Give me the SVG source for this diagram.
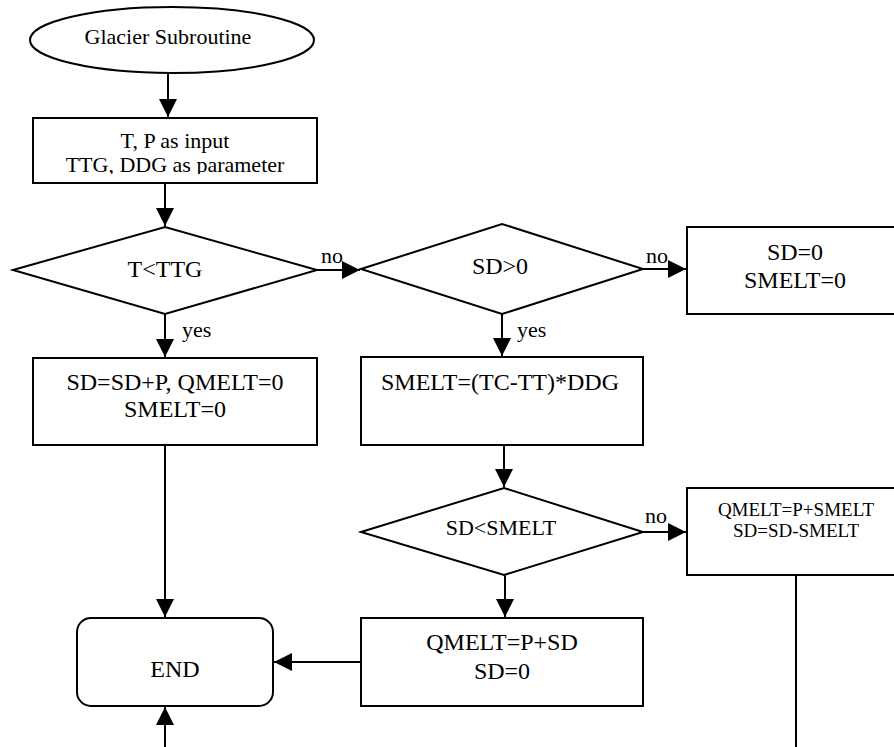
<svg xmlns="http://www.w3.org/2000/svg" width="894" height="747" viewBox="0 0 894 747">
<style>
.s{fill:#fff;stroke:#000;stroke-width:2}
.t{font-family:'Liberation Serif',serif;fill:#000;text-anchor:middle}
.l{font-family:'Liberation Serif',serif;fill:#000;font-size:22px}
.c{fill:none;stroke:#000;stroke-width:2}
</style>
<defs>
<marker id="a" markerUnits="userSpaceOnUse" markerWidth="18" markerHeight="18" refX="18" refY="9" orient="auto" viewBox="0 0 18 18">
<path d="M0,0 L18,9 L0,18 Z" fill="#000"/>
</marker>
<clipPath id="clip1"><rect x="33" y="118" width="284" height="56"/></clipPath>
</defs>
<rect width="894" height="747" fill="#fff"/>
<g id="connectors">
<path class="c" d="M168,73 V117" marker-end="url(#a)"/>
<path class="c" d="M165,183 V226" marker-end="url(#a)"/>
<path class="c" d="M165,314 V357" marker-end="url(#a)"/>
<path class="c" d="M317,270 H360" marker-end="url(#a)"/>
<path class="c" d="M643,269 H686" marker-end="url(#a)"/>
<path class="c" d="M502,314 V356" marker-end="url(#a)"/>
<path class="c" d="M504,445 V487" marker-end="url(#a)"/>
<path class="c" d="M643,532 H686" marker-end="url(#a)"/>
<path class="c" d="M505,575 V617" marker-end="url(#a)"/>
<path class="c" d="M361,662 H274" marker-end="url(#a)"/>
<path class="c" d="M165,445 V617" marker-end="url(#a)"/>
<path class="c" d="M165,747 V707" marker-end="url(#a)"/>
<path class="c" d="M796,575 V747"/>
<text class="l" x="182" y="337">yes</text>
<text class="l" x="321" y="263">no</text>
<text class="l" x="517" y="337">yes</text>
<text class="l" x="646" y="263">no</text>
<text class="l" x="645" y="523">no</text>
</g>
<g id="start">
<ellipse class="s" cx="172" cy="40" rx="142" ry="33"/>
<text class="t" x="168" y="44" font-size="22">Glacier Subroutine</text>
</g>
<g id="input">
<rect class="s" x="33" y="118" width="284" height="65"/>
<g clip-path="url(#clip1)">
<text class="t" x="175" y="148" font-size="22">T, P as input</text>
<text class="t" x="175" y="172" font-size="22">TTG, DDG as parameter</text>
</g>
</g>
<g id="d1">
<polygon class="s" points="13,270 165,227 317,270 165,314"/>
<text class="t" x="165" y="277" font-size="24">T&lt;TTG</text>
</g>
<g id="box2">
<rect class="s" x="33" y="358" width="284" height="87"/>
<text class="t" x="175" y="390" font-size="24">SD=SD+P, QMELT=0</text>
<text class="t" x="175" y="417" font-size="24">SMELT=0</text>
</g>
<g id="d2">
<polygon class="s" points="361,269 502,224 643,269 502,314"/>
<text class="t" x="500" y="274" font-size="24">SD&gt;0</text>
</g>
<g id="sd0">
<rect class="s" x="687" y="227" width="216" height="87"/>
<text class="t" x="795" y="260" font-size="24">SD=0</text>
<text class="t" x="795" y="288" font-size="24">SMELT=0</text>
</g>
<g id="smelt">
<rect class="s" x="361" y="357" width="282" height="88"/>
<text class="t" x="500" y="390" font-size="24">SMELT=(TC-TT)*DDG</text>
</g>
<g id="d3">
<polygon class="s" points="361,532 504,488 643,532 504,575"/>
<text class="t" x="501" y="535" font-size="22">SD&lt;SMELT</text>
</g>
<g id="box5">
<rect class="s" x="687" y="488" width="218" height="87"/>
<text class="t" x="796" y="516" font-size="19">QMELT=P+SMELT</text>
<text class="t" x="796" y="537" font-size="19">SD=SD-SMELT</text>
</g>
<g id="box4">
<rect class="s" x="361" y="618" width="282" height="88"/>
<text class="t" x="502" y="650" font-size="24">QMELT=P+SD</text>
<text class="t" x="502" y="679" font-size="24">SD=0</text>
</g>
<g id="end">
<rect class="s" x="77" y="618" width="196" height="88" rx="14" ry="14"/>
<text class="t" x="175" y="677" font-size="24">END</text>
</g>
</svg>
